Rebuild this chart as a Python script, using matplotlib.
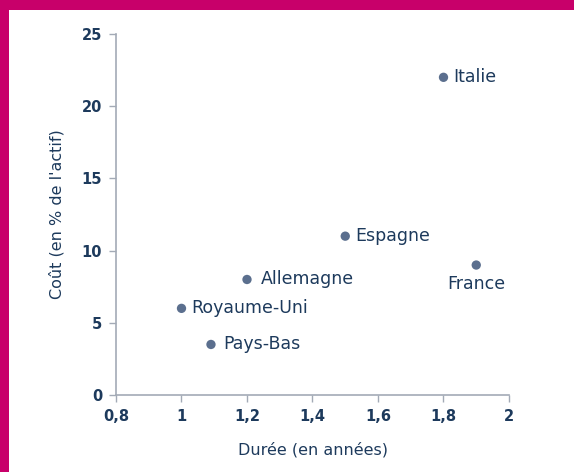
import matplotlib
matplotlib.use("Agg")
import matplotlib.pyplot as plt
from matplotlib.patches import Rectangle

countries = ["Italie", "Espagne", "France", "Allemagne", "Royaume-Uni", "Pays-Bas"]
duree = [1.8, 1.5, 1.9, 1.2, 1.0, 1.09]
cout = [22, 11, 9, 8, 6, 3.5]
xticks = [0.8, 1.0, 1.2, 1.4, 1.6, 1.8, 2.0]
xticklabels = ["0,8", "1", "1,2", "1,4", "1,6", "1,8", "2"]
yticks = [0, 5, 10, 15, 20, 25]

plt.rcParams['font.family'] = ['DejaVu Sans']
navy = "#1d3a5c"
dot = "#5b6f8e"
grey = "#a3aab6"
magenta = "#c8006a"

fig = plt.figure(figsize=(5.74, 4.72), dpi=100)
fig.patch.set_facecolor("white")
fig.patches.append(Rectangle((0, 1 - 10/472), 1, 10/472, transform=fig.transFigure,
                             facecolor=magenta, edgecolor="none", zorder=0))
fig.patches.append(Rectangle((0, 0), 9/574, 1, transform=fig.transFigure,
                             facecolor=magenta, edgecolor="none", zorder=0))

ax = fig.add_axes([116/574, 1 - 395/472, (509 - 116)/574, (395 - 34)/472])
ax.scatter(duree, cout, s=45, color=dot, zorder=3, edgecolors="none")

offsets = {
    "Italie": (7, 0, "left", "center"),
    "Espagne": (7, 0, "left", "center"),
    "France": (0, -7, "center", "top"),
    "Allemagne": (10, 0, "left", "center"),
    "Royaume-Uni": (7, 0, "left", "center"),
    "Pays-Bas": (8.5, 0, "left", "center"),
}
for name, x, y in zip(countries, duree, cout):
    dx, dy, ha, va = offsets[name]
    ax.annotate(name, (x, y), xytext=(dx, dy), textcoords="offset points",
                ha=ha, va=va, fontsize=12.5, color=navy)

ax.set_xlim(0.8, 2.0)
ax.set_ylim(0, 25)
ax.set_xticks(xticks)
ax.set_xticklabels(xticklabels)
ax.set_yticks(yticks)
for lbl in ax.get_xticklabels() + ax.get_yticklabels():
    lbl.set_fontweight("bold")
    lbl.set_color(navy)
    lbl.set_fontsize(10.5)
ax.tick_params(direction="out", length=5, width=1, color=grey, pad=5)
for s in ["top", "right"]:
    ax.spines[s].set_visible(False)
for s in ["left", "bottom"]:
    ax.spines[s].set_color(grey)
    ax.spines[s].set_linewidth(1.2)

ax.set_xlabel("Durée (en années)", fontsize=11.5, color=navy, labelpad=13)
ax.set_ylabel("Coût (en % de l'actif)", fontsize=11.5, color=navy, labelpad=12)

fig.savefig("out.png", dpi=100, facecolor="white")
